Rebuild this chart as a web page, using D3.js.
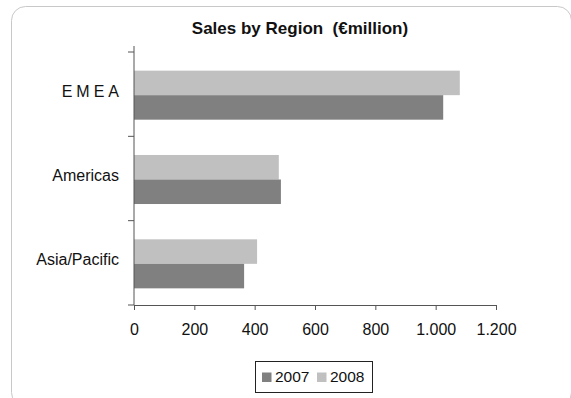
<!DOCTYPE html>
<html><head><meta charset="utf-8">
<script src="https://cdn.jsdelivr.net/npm/d3@7"></script>
<style>body{margin:0;background:#fff}svg{display:block}text{font-family:"Liberation Sans",Arial,sans-serif}</style>
</head><body>
<script>
const categories = ["EMEA", "Americas", "Asia/Pacific"];
const seriesNames = ["2007", "2008"];
const values2007 = [1025, 487, 365];
const values2008 = [1080, 480, 408];
const tickValues = [0, 200, 400, 600, 800, 1000, 1200];
const tickLabels = ["0", "200", "400", "600", "800", "1.000", "1.200"];
const colors = {"2007": "#808080", "2008": "#c0c0c0"};

const W = 571, H = 398;
const svg = d3.select("body").append("svg").attr("width", W).attr("height", H);

svg.append("rect").attr("x", 11.5).attr("y", 6.5).attr("width", 560).attr("height", 400)
  .attr("rx", 14).attr("fill", "#fff").attr("stroke", "#c8c8c8").attr("stroke-width", 1);

svg.append("text").attr("x", 300).attr("y", 34).attr("text-anchor", "middle")
  .attr("font-size", 17).attr("font-weight", "bold").attr("fill", "#111")
  .style("white-space", "pre")
  .text("Sales by Region  (€million)");

const x = d3.scaleLinear().domain([0, 1200]).range([134, 496]);
const y = d3.scaleBand().domain(categories).range([52, 305]);
const inner = d3.scaleBand().domain(["2008", "2007"]).range([0, y.bandwidth()]).paddingOuter(0.72).paddingInner(0);

const data = categories.map((c, i) => ({cat: c, "2007": values2007[i], "2008": values2008[i]}));

const g = svg.append("g");
data.forEach(d => {
  ["2008", "2007"].forEach(s => {
    g.append("rect")
      .attr("x", x(0)).attr("y", y(d.cat) + inner(s) + 1)
      .attr("width", x(d[s]) - x(0)).attr("height", inner.bandwidth())
      .attr("fill", colors[s]);
  });
});

// x axis
const xAxis = d3.axisBottom(x).tickValues(tickValues).tickFormat((d, i) => tickLabels[i]).tickSize(5).tickSizeOuter(0);
const xg = svg.append("g").attr("transform", "translate(0,305)").call(xAxis);
xg.select(".domain").attr("stroke", "#555");
xg.selectAll(".tick line").attr("stroke", "#555");
xg.selectAll(".tick text").attr("font-size", 16).attr("fill", "#111").attr("dy", null)
  .attr("font-family", '"Liberation Sans",Arial,sans-serif').attr("y", 30);

// y axis line and category ticks
const yg = svg.append("g");
yg.append("line").attr("x1", 134).attr("x2", 134).attr("y1", 46).attr("y2", 305).attr("stroke", "#555");
const bounds = [52].concat(categories.map(c => y(c) + y.bandwidth()));
bounds.forEach(b => {
  yg.append("line").attr("x1", 128).attr("x2", 134).attr("y1", b).attr("y2", b).attr("stroke", "#555");
});
categories.forEach(c => {
  const ls = c === "EMEA" ? 4 : 0;
  yg.append("text").attr("x", 119 + ls).attr("y", y(c) + y.bandwidth() / 2 + 2.6)
    .attr("text-anchor", "end").attr("font-size", 16).attr("fill", "#111")
    .attr("letter-spacing", ls + "px")
    .text(c);
});

// legend
const lg = svg.append("g");
lg.append("rect").attr("x", 255.5).attr("y", 361.5).attr("width", 117).attr("height", 31)
  .attr("fill", "#fff").attr("stroke", "#222");
const litems = [{s: "2007", x: 262}, {s: "2008", x: 317}];
litems.forEach(it => {
  lg.append("rect").attr("x", it.x).attr("y", 372.5).attr("width", 9.5).attr("height", 9.5).attr("fill", colors[it.s]);
  lg.append("text").attr("x", it.x + 13).attr("y", 382).attr("font-size", 15.5).attr("fill", "#111").text(it.s);
});
</script>
</body></html>
